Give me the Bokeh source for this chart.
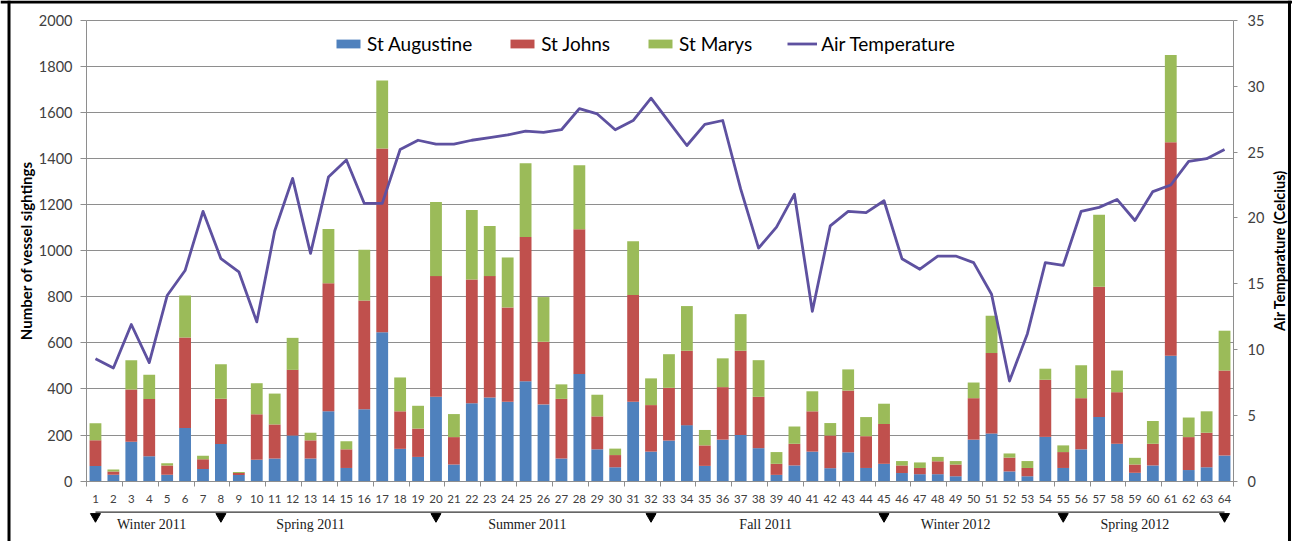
import math
from bokeh.plotting import figure
from bokeh.models import (Range1d, LinearAxis, FixedTicker, Legend, LegendItem,
                          ColumnDataSource, Grid, Span)
from bokeh.core.properties import value
from bokeh.embed import file_html
from bokeh.resources import INLINE

# ---------------- data ----------------
weeks = list(range(1, 65))
st_augustine = [65, 27, 171, 108, 27, 230, 53, 161, 26, 93, 98, 198, 98, 303, 57, 312,
                646, 140, 105, 366, 72, 338, 363, 345, 434, 333, 98, 465, 138, 60, 345, 128,
                176, 243, 66, 180, 200, 143, 27, 68, 128, 56, 125, 57, 75, 35, 30, 30,
                21, 180, 207, 42, 21, 192, 57, 138, 278, 162, 36, 68, 544, 48, 60, 111]
st_johns = [112, 15, 227, 248, 41, 393, 42, 196, 9, 197, 148, 285, 79, 556, 81, 472,
            798, 163, 123, 524, 119, 537, 527, 409, 626, 272, 259, 628, 143, 53, 463, 202,
            229, 323, 89, 228, 366, 223, 48, 94, 175, 142, 268, 138, 173, 33, 27, 56,
            51, 180, 349, 60, 36, 248, 69, 222, 566, 224, 36, 94, 927, 143, 150, 369]
st_marys = [74, 8, 127, 106, 10, 183, 15, 150, 5, 135, 134, 139, 33, 236, 35, 221,
            295, 147, 99, 322, 100, 302, 218, 217, 320, 194, 63, 278, 94, 28, 233, 116,
            146, 194, 67, 125, 159, 159, 51, 75, 87, 54, 92, 83, 88, 19, 24, 19,
            15, 68, 162, 18, 30, 48, 29, 143, 312, 94, 29, 99, 379, 85, 93, 173]
air_temp = [9.3, 8.6, 11.9, 9.0, 14.1, 16.0, 20.5, 16.9, 15.9, 12.1, 19.0, 23.0, 17.3, 23.1, 24.4, 21.1,
            21.1, 25.2, 25.9, 25.6, 25.6, 25.9, 26.1, 26.3, 26.6, 26.5, 26.7, 28.3, 27.9, 26.7, 27.4, 29.1,
            27.3, 25.5, 27.1, 27.4, 22.2, 17.7, 19.3, 21.8, 12.9, 19.4, 20.5, 20.4, 21.3, 16.9, 16.1, 17.1,
            17.1, 16.6, 14.2, 7.6, 11.2, 16.6, 16.4, 20.5, 20.8, 21.4, 19.8, 22.0, 22.5, 24.3, 24.5, 25.2]

series_names = ["St Augustine", "St Johns", "St Marys"]
series_colors = ["#4F81BD", "#C0504D", "#9BBB59"]
line_name = "Air Temperature"
line_color = "#5E51A0"

left_ticks = list(range(0, 2001, 200))
right_ticks = list(range(0, 36, 5))
season_bounds = [1, 8, 20, 32, 45, 55, 64]
season_names = ["Winter 2011", "Spring 2011", "Summer 2011", "Fall 2011", "Winter 2012", "Spring 2012"]
season_label_x = [4.13, 13.0, 25.1, 38.4, 49.0, 59.0]

left_title = "Number of vessel sightings"
right_title = "Air Temparature (Celcius)"

# ---------------- layout constants ----------------
W, H = 1292, 541
X0, X1 = -4.299, 67.792          # frame covers the whole canvas
Y0, Y1 = -262.3, 2086.8
T_SCALE = 35 / 2000
CAT_LO, CAT_HI = 0.5, 64.5
SEASON_LINE_Y = -135.0
SEASON_TRI_Y = -153.7
SEASON_TEXT_Y = -188.4
LEFT_TITLE_X, RIGHT_TITLE_X, TITLE_Y = -2.904, 67.06, 1001
BORDER_L, BORDER_R, BORDER_T = -3.824, 67.624, 2080.3
FONT = "Lato"
TICK_COLOR = "#404040"
GRID_COLOR = "#8E8E8E"

src = ColumnDataSource(dict(week=weeks, aug=st_augustine, johns=st_johns,
                            marys=st_marys, temp=air_temp))

p = figure(width=W, height=H, x_range=Range1d(X0, X1), y_range=Range1d(Y0, Y1),
           x_axis_type=None, y_axis_type=None,
           output_backend="svg", toolbar_location=None,
           min_border=0, min_border_left=0, min_border_right=0,
           min_border_top=0, min_border_bottom=0,
           background_fill_color="white", border_fill_color="white",
           outline_line_color=None)
p.extra_y_ranges = {"temp": Range1d(Y0 * T_SCALE, Y1 * T_SCALE)}

# horizontal gridlines, limited to the category span
try:
    grid = Grid(dimension=1, ticker=FixedTicker(ticks=left_ticks), cross_bounds=(CAT_LO, CAT_HI),
                grid_line_color=GRID_COLOR, grid_line_width=1)
    p.add_layout(grid)
except Exception:
    p.segment(x0=[CAT_LO] * len(left_ticks), y0=left_ticks, x1=[CAT_HI] * len(left_ticks),
              y1=left_ticks, line_color=GRID_COLOR, line_width=1)

# bars
bars = p.vbar_stack(["aug", "johns", "marys"], x="week", width=0.66, color=series_colors,
                    line_color=None, source=src)
# line
ln = p.line(x="week", y="temp", y_range_name="temp", source=src,
            line_color=line_color, line_width=2.8, line_join="round")

# left axis (drawn at the left edge of the category span)
yax = LinearAxis(fixed_location=CAT_LO, ticker=FixedTicker(ticks=left_ticks), bounds=(0, 2000),
                 axis_line_color=GRID_COLOR, major_tick_line_color=GRID_COLOR,
                 major_tick_out=6, major_tick_in=0, minor_tick_out=0, minor_tick_in=0,
                 major_label_text_font=FONT, major_label_text_font_size="14.5px",
                 major_label_text_color=TICK_COLOR, major_label_standoff=8)
p.add_layout(yax, "left")

# right axis
rax = LinearAxis(fixed_location=CAT_HI, y_range_name="temp", ticker=FixedTicker(ticks=right_ticks),
                 bounds=(0, 35),
                 axis_line_color=GRID_COLOR, major_tick_line_color=GRID_COLOR,
                 major_tick_out=4, major_tick_in=0, minor_tick_out=0, minor_tick_in=0,
                 major_label_text_font=FONT, major_label_text_font_size="14.5px",
                 major_label_text_color=TICK_COLOR, major_label_standoff=10)
p.add_layout(rax, "right")

# x axis at y=0
minor = [CAT_LO + 2 * k for k in range(33)]
xax = LinearAxis(fixed_location=0, ticker=FixedTicker(ticks=weeks, minor_ticks=minor),
                 bounds=(CAT_LO, CAT_HI),
                 axis_line_color=GRID_COLOR, major_tick_out=0, major_tick_in=0,
                 minor_tick_out=5, minor_tick_in=0, minor_tick_line_color=GRID_COLOR,
                 major_label_text_font=FONT, major_label_text_font_size="11.5px",
                 major_label_text_color=TICK_COLOR, major_label_standoff=9)
p.add_layout(xax, "below")

# season row
p.segment(x0=[season_bounds[0]], y0=[SEASON_LINE_Y], x1=[season_bounds[-1]], y1=[SEASON_LINE_Y],
          line_color="#333333", line_width=1.2)
p.scatter(x=season_bounds, y=[SEASON_TRI_Y] * len(season_bounds), marker="inverted_triangle",
          size=10, color="black")
p.text(x=season_label_x, y=[SEASON_TEXT_Y] * len(season_names), text=season_names,
       text_font=value("Liberation Serif"), text_font_size="14px", text_align="center",
       text_baseline="middle", text_color="#1a1a1a")

# axis titles
p.text(x=[LEFT_TITLE_X], y=[TITLE_Y], text=[left_title], angle=math.pi / 2,
       text_align="center", text_baseline="middle", text_font=value(FONT),
       text_font_style="bold", text_font_size="15px", text_color="black")
p.text(x=[RIGHT_TITLE_X], y=[TITLE_Y], text=[right_title], angle=math.pi / 2,
       text_align="center", text_baseline="middle", text_font=value(FONT),
       text_font_style="bold", text_font_size="14.5px", text_color="black")

# outer black frame (left, right, top)
for loc, dim in ((BORDER_L, "height"), (BORDER_R, "height"), (BORDER_T, "width")):
    p.add_layout(Span(location=loc, dimension=dim, line_color="black", line_width=3))

# legend
items = [LegendItem(label=n, renderers=[r]) for n, r in zip(series_names, bars)]
items.append(LegendItem(label=line_name, renderers=[ln]))
legend = Legend(items=items, orientation="horizontal", location=(333, 486),
                glyph_width=30, glyph_height=11, label_standoff=4, spacing=35,
                padding=5, margin=0, border_line_color=None,
                background_fill_color="white", background_fill_alpha=1.0,
                label_text_font=FONT, label_text_font_size="19px", label_text_color="black")
p.add_layout(legend, "center")

open("out.html", "w").write(file_html(p, INLINE))
